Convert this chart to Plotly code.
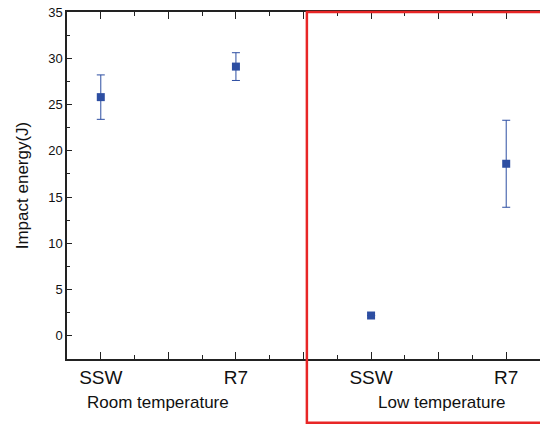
import plotly.graph_objects as go

categories = ["SSW", "R7", "SSW", "R7"]
x_pos = [1, 3, 5, 7]
energy = [25.8, 29.1, 2.2, 18.6]
err = [2.4, 1.5, 0.0, 4.7]
groups = ["Room temperature", "Low temperature"]
group_x = [1.85, 6.05]

blue = "#2D4EA2"
fig = go.Figure()
fig.add_trace(go.Scatter(
    x=x_pos, y=energy, mode="markers",
    marker=dict(symbol="square", size=8, color=blue),
    error_y=dict(type="data", array=err, visible=True, color=blue, thickness=1, width=4),
    showlegend=False,
))

tickvals = [1, 2, 3, 4, 5, 6, 7]
ticktext = ["SSW", "", "R7", "", "SSW", "", "R7"]

fig.update_layout(
    width=540, height=425,
    margin=dict(l=67, r=0, t=12, b=66),
    plot_bgcolor="white", paper_bgcolor="white",
    font=dict(family="Liberation Sans, Arial, sans-serif", color="#111"),
    xaxis=dict(
        range=[0.5, 7.5], tickvals=tickvals, ticktext=ticktext,
        ticks="inside", ticklen=7, tickwidth=1.2, tickcolor="#222",
        minor=dict(dtick=0.5, tick0=0.5, ticks="inside", ticklen=4, tickcolor="#222"),
        showline=True, linecolor="#222", linewidth=1.5, mirror="ticks",
        showgrid=False, zeroline=False,
        tickfont=dict(size=19, color="#111"),
    ),
    yaxis=dict(
        range=[-2.5, 35], tickvals=[0, 5, 10, 15, 20, 25, 30, 35],
        ticks="inside", ticklen=5, tickwidth=1.2, tickcolor="#222",
        minor=dict(dtick=2.5, tick0=0, ticks="inside", ticklen=3, tickcolor="#222"),
        showline=True, linecolor="#222", linewidth=1.5,
        showgrid=False, zeroline=False,
        tickfont=dict(size=13, color="#111"),
        title=dict(text="Impact energy(J)", font=dict(size=17, color="#111"), standoff=15),
    ),
)

for g, gx in zip(groups, group_x):
    fig.add_annotation(x=gx, y=-0.125, xref="x", yref="paper", text=g,
                       showarrow=False, font=dict(size=17, color="#111"),
                       xanchor="center", yanchor="middle")

fig.add_shape(type="rect", xref="x", yref="paper",
              x0=4.05, x1=7.7, y0=-0.184, y1=1.0,
              line=dict(color="#E82626", width=2.5), layer="above")

fig.write_html("out.html")
